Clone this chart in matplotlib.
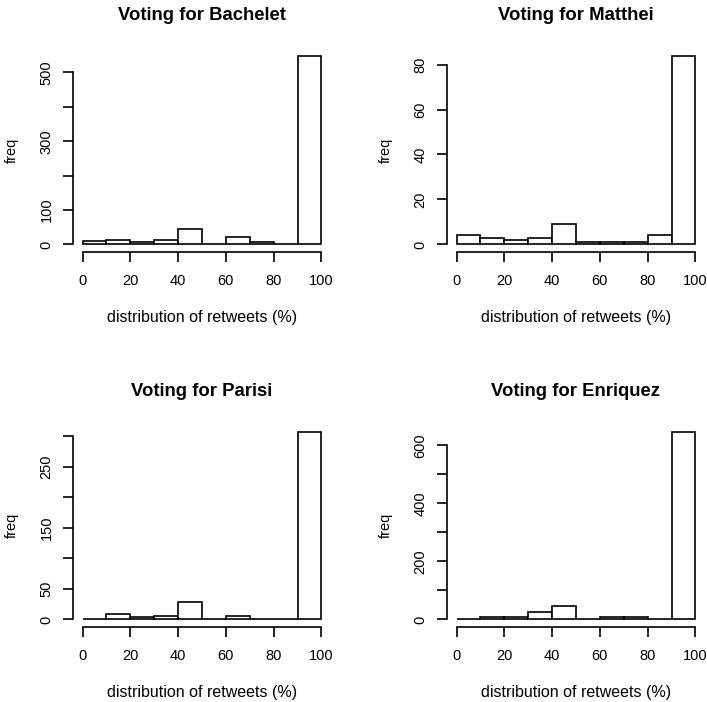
import matplotlib
matplotlib.use("Agg")
import matplotlib.pyplot as plt

plt.rcParams["font.family"] = ["Liberation Sans", "DejaVu Sans"]

# histogram bins (percent of retweets) and counts
bin_edges = [0, 10, 20, 30, 40, 50, 60, 70, 80, 90, 100]
bachelet = [10, 14, 7, 13, 46, 2, 22, 8, 2, 549]
matthei = [4, 3, 2, 3, 9, 1, 1, 1, 4, 84]
parisi = [1, 9, 4, 6, 28, 1, 6, 1, 0, 308]
enriquez = [3, 7, 7, 25, 45, 3, 7, 7, 3, 648]

titles = ["Voting for Bachelet", "Voting for Matthei", "Voting for Parisi", "Voting for Enriquez"]
counts = [bachelet, matthei, parisi, enriquez]
y_ticks = [
    [0, 100, 200, 300, 400, 500],
    [0, 20, 40, 60, 80],
    [0, 50, 100, 150, 200, 250, 300],
    [0, 100, 200, 300, 400, 500, 600],
]
y_labels = [
    ["0", "100", "", "300", "", "500"],
    ["0", "20", "40", "60", "80"],
    ["0", "50", "", "150", "", "250", ""],
    ["0", "", "200", "", "400", "", "600"],
]
x_ticks = [0, 20, 40, 60, 80, 100]

fig = plt.figure(figsize=(7.07, 7.02), dpi=100)

W, H = 707, 702
boxes = [
    (73, 48, 331, 252),
    (447, 48, 705, 252),
    (73, 424, 331, 627),
    (447, 424, 705, 627),
]

for box, title, cnt, yt, yl in zip(boxes, titles, counts, y_ticks, y_labels):
    l, t, r, b = box
    ax = fig.add_axes([l / W, 1 - b / H, (r - l) / W, (b - t) / H])
    ax.bar(bin_edges[:-1], cnt, width=10, align="edge",
           facecolor="white", edgecolor="black", linewidth=1.2)

    top = max(cnt)
    ax.set_xlim(-4, 104)
    ax.set_ylim(-0.04 * top, 1.04 * top)

    for side in ["top", "right"]:
        ax.spines[side].set_visible(False)
    ax.spines["left"].set_bounds(yt[0], yt[-1])
    ax.spines["bottom"].set_bounds(0, 100)
    ax.spines["left"].set_linewidth(1.2)
    ax.spines["bottom"].set_linewidth(1.2)

    ax.set_xticks(x_ticks)
    ax.set_xticklabels([str(v) for v in x_ticks])
    ax.set_yticks(yt)
    ax.set_yticklabels(yl, rotation=90, va="center")
    ax.tick_params(axis="both", length=7, width=1.2, labelsize=10.5)
    ax.tick_params(axis="x", pad=9)
    ax.tick_params(axis="y", pad=7)

    ax.set_title(title, fontsize=13.3, fontweight="bold", pad=20)
    ax.set_xlabel("distribution of retweets (%)", fontsize=11.5, labelpad=16)
    ax.set_ylabel("freq", fontsize=10.5, labelpad=15)

fig.savefig("out.png", dpi=100, facecolor="white")
